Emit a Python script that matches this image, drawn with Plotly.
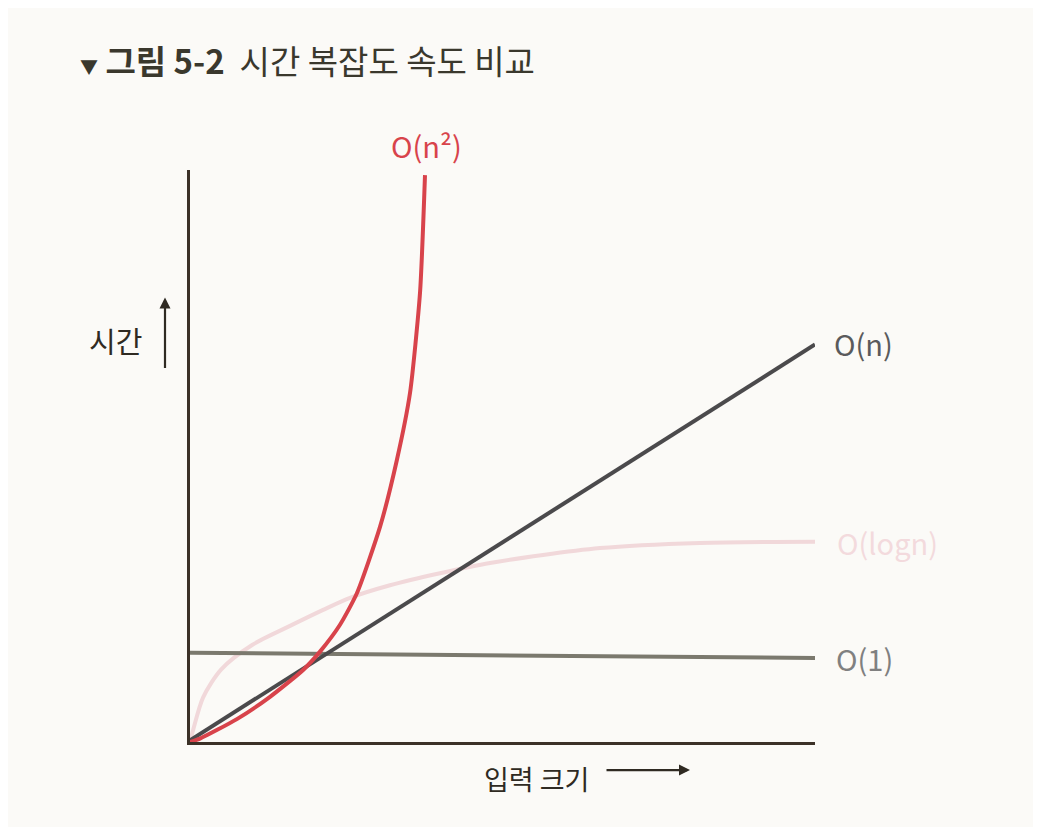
import plotly.graph_objects as go

# ---- data (x = input size, y = time, arbitrary units) ----
on2_x = [0, 0.16, 0.75, 1.28, 1.81, 2.08, 2.40, 2.67, 3.04, 3.31, 3.52, 3.68, 3.76]
on2_y = [0, 0.06, 0.40, 0.79, 1.26, 1.58, 2.05, 2.60, 3.76, 4.93, 6.10, 7.85, 9.91]

on_x = [0, 10.0]
on_y = [0.03, 6.95]

olog_x = [0, 0.05, 0.21, 0.50, 1.00, 1.60, 2.13, 2.56, 3.20, 4.00, 4.80, 6.56, 8.16, 10.0]
olog_y = [0, 0.21, 0.78, 1.27, 1.70, 2.03, 2.31, 2.52, 2.74, 2.95, 3.13, 3.39, 3.48, 3.50]

o1_x = [0, 10.0]
o1_y = [1.56, 1.47]

labels = ["O(n²)", "O(n)", "O(logn)", "O(1)"]
title_bold = "그림 5-2"
title_rest = "시간 복잡도 속도 비교"
y_label = "시간"
x_label = "입력 크기"

# ---- styles ----
RED = "#d8434b"
DARK = "#4b4a4c"
PINK = "#f1d8da"
GRAY = "#7b796e"
AXIS = "#3b3127"
BG = "#fbfaf7"
INK = "#2f2a22"
FONT = "Noto Sans CJK KR"

fig = go.Figure()
fig.add_trace(go.Scatter(x=olog_x, y=olog_y, mode="lines",
                         line=dict(color=PINK, width=4, shape="spline", smoothing=0.8)))
fig.add_trace(go.Scatter(x=o1_x, y=o1_y, mode="lines",
                         line=dict(color=GRAY, width=4)))
fig.add_trace(go.Scatter(x=on_x, y=on_y, mode="lines",
                         line=dict(color=DARK, width=4)))
fig.add_trace(go.Scatter(x=on2_x, y=on2_y, mode="lines",
                         line=dict(color=RED, width=4, shape="spline", smoothing=0.6)))


def label(x, y, text, size, color, xanchor="center"):
    return dict(xref="paper", yref="paper", x=x, y=y, text=text, showarrow=False,
                xanchor=xanchor, yanchor="middle",
                font=dict(size=size, color=color, family=FONT))


ann = []
# curve labels (paper coordinates relative to the plot area)
ann.append(label(0.378, 1.044, labels[0], 29, RED))
ann.append(label(1.027, 0.698, labels[1], 29, "#5a5a5c", "left"))
ann.append(label(1.032, 0.350, labels[2], 29, "#f3dadd", "left"))
ann.append(label(1.030, 0.147, labels[3], 29, "#808080", "left"))
# axis labels and arrows
ann.append(label(-0.12, 0.703, y_label, 29, INK))
ann.append(dict(xref="paper", yref="paper", x=-0.04, y=0.777, ax=0, ay=72, text="",
                showarrow=True, arrowhead=2, arrowsize=1, arrowwidth=2.2, arrowcolor=INK))
ann.append(label(0.555, -0.063, x_label, 27, INK))
ann.append(dict(xref="paper", yref="paper", x=0.80, y=-0.049, ax=-85, ay=0, text="",
                showarrow=True, arrowhead=2, arrowsize=1, arrowwidth=2.2, arrowcolor=INK))
# title
ann.append(dict(xref="paper", yref="paper", x=-0.179, y=1.193, xanchor="left", yanchor="middle",
                text="<span style='font-size:18px'>▼</span> <b>" + title_bold + "</b>  " + title_rest,
                showarrow=False, font=dict(size=33, color="#3a382d", family=FONT)))

fig.update_layout(
    width=1025, height=819,
    margin=dict(l=182, r=218, t=162, b=85),
    paper_bgcolor=BG, plot_bgcolor=BG,
    showlegend=False,
    annotations=ann,
    xaxis=dict(range=[0, 10], showgrid=False, zeroline=False, showticklabels=False, ticks="",
               showline=True, linecolor=AXIS, linewidth=3),
    yaxis=dict(range=[0, 10], showgrid=False, zeroline=False, showticklabels=False, ticks="",
               showline=True, linecolor=AXIS, linewidth=3),
)

fig.write_html("out.html")
